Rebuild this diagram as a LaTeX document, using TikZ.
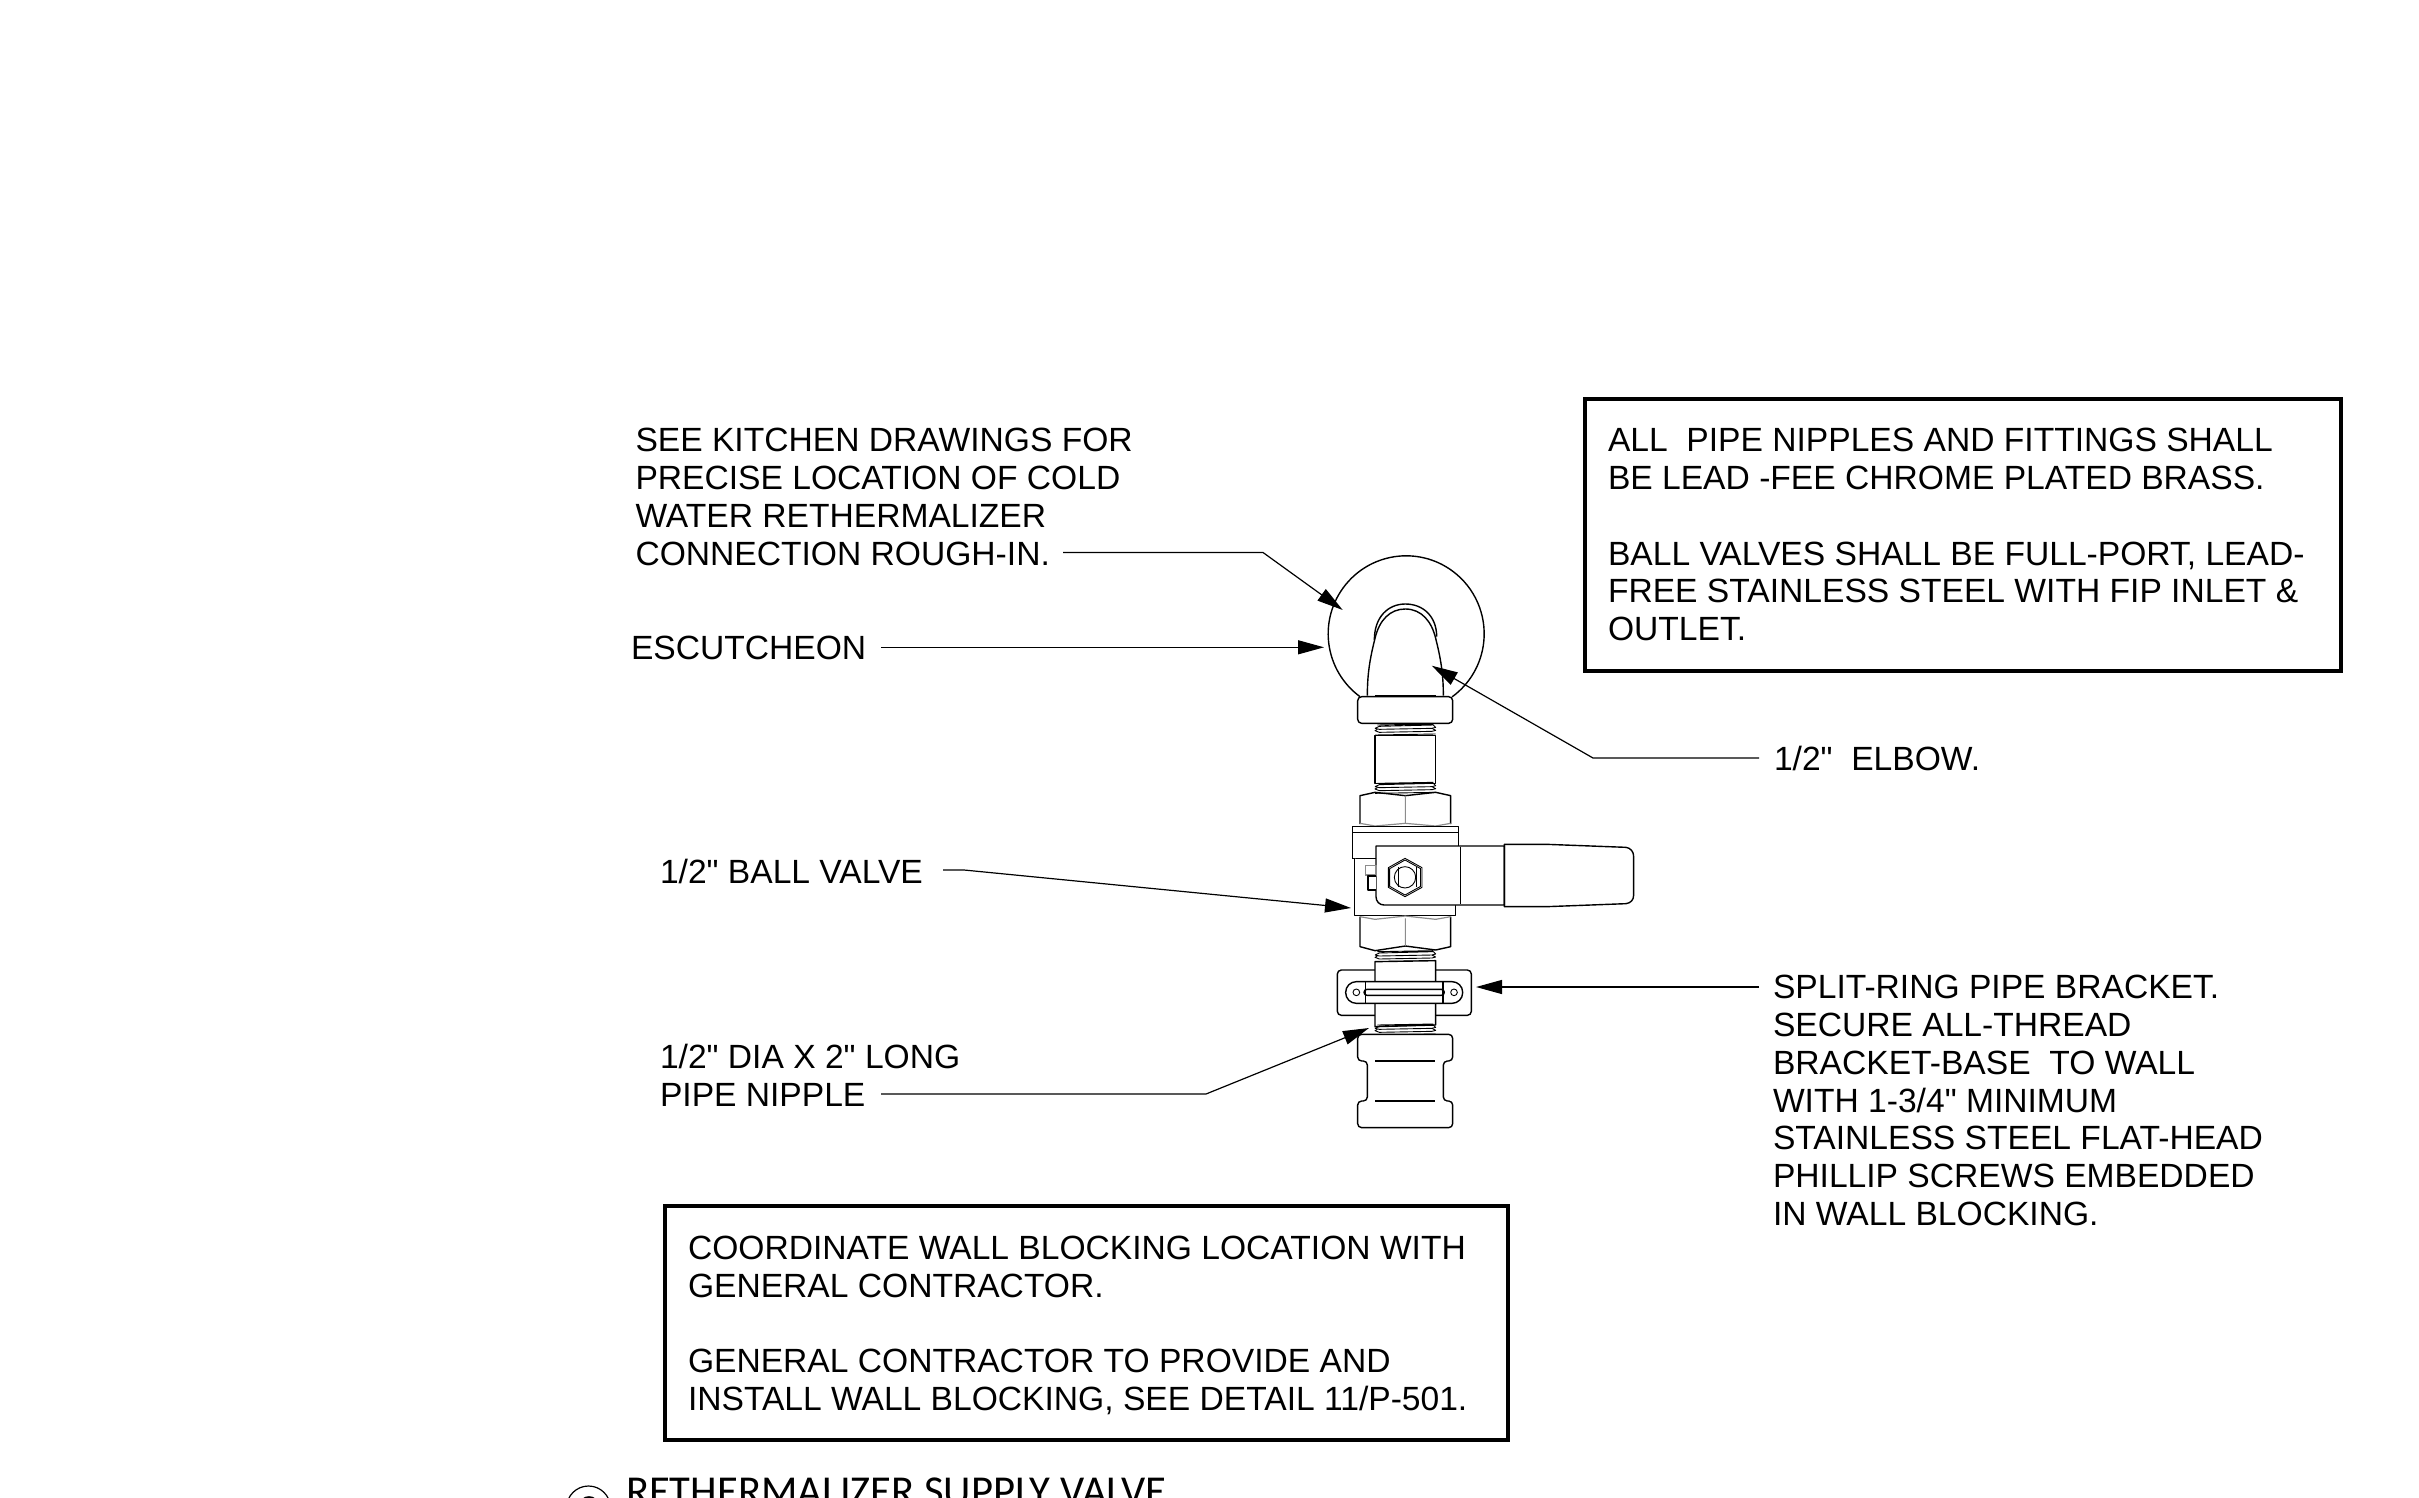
\documentclass[tikz,border=0pt]{standalone}
\usepackage{fontspec}
\newfontfamily\lab{Liberation Sans}
\newfontfamily\ttlfont{Carlito}
\usetikzlibrary{arrows.meta}
\tikzset{
  txt/.style={anchor=north west,inner sep=0pt,outer sep=0pt,align=left,font=\lab\fontsize{16.8}{18.85}\selectfont},
  ttl/.style={anchor=north west,inner sep=0pt,outer sep=0pt,font=\ttlfont\fontsize{21.3}{23}\selectfont},
  note/.style={draw,line width=1.75pt,fill=none,anchor=north west,inner sep=0pt},
  ln/.style={line width=0.7pt,line join=round},
  thn/.style={line width=0.45pt,line join=round},
  grey/.style={line width=0.6pt,draw=black!45},
  leader/.style={line width=0.6pt,draw=black,-{Triangle[length=13pt,width=7pt]}},
}
\newcommand{\thr}[1]{%
  \begin{scope}[shift={(0,#1)}]
    \draw[thn] (352,0) -- (520,-3) (345,10) -- (358,4) -- (520,0) -- (527,7) -- (516,10) -- (358,13) -- (345,10);
    \draw[thn] (352,13) -- (345,17) -- (358,22) -- (516,19) -- (527,16) -- (516,10);
    \draw[thn] (345,30) -- (527,27);
  \end{scope}}
\begin{document}
\begin{tikzpicture}[x=0.5pt,y=-0.5pt]
\useasboundingbox (0,0) rectangle (2419,1498);

% pipe assembly, upper part
\begin{scope}[shift={(1260,530)},scale=0.33333]
  \draw[ln] (300,500) arc[start angle=126.3,end angle=414,radius=234];
  \draw[ln] (343,330) .. controls (343,260) and (385,222) .. (436,222) .. controls (490,222) and (530,260) .. (530,320);
  \draw[ln,fill=white] (322,497) .. controls (322,430) and (330,385) .. (345,325) .. controls (358,270) and (390,237) .. (436,237) .. controls (485,237) and (515,275) .. (527,325) .. controls (542,385) and (550,430) .. (550,497);
  \draw[ln,fill=white,rounded corners=2pt] (293,500) rectangle (578,580);
  \draw[ln] (345,497) -- (527,497);
  \thr{585}
  \draw[ln] (345,617) rectangle (527,760);
  \thr{760}
  \draw[ln] (300,882) -- (300,797) -- (345,787) -- (436,797) -- (527,787) -- (572,797) -- (572,882);
  \draw[grey] (436,797) -- (436,880) (300,880) -- (345,888) -- (436,880) -- (527,888) -- (572,880);
\end{scope}

% valve, bracket, lower part
\begin{scope}[shift={(1260,800)},scale=0.33333]
  \draw[ln] (277,175) -- (277,80) -- (595,80) -- (595,140);
  \draw[ln] (277,97) -- (595,97);
  \draw[ln] (277,175) -- (348,175);
  \draw[ln,fill=white] (283,175) -- (283,347) -- (587,347) -- (587,315);
  \draw[ln,fill=white] (348,138) -- (733,138) -- (733,315) -- (372,315) .. controls (358,315) and (348,304) .. (348,290) -- cycle;
  \draw[ln] (601,140) -- (601,312);
  \draw[ln] (733,133) -- (860,133) -- (1098,142) .. controls (1112,144) and (1121,155) .. (1121,170) -- (1121,285) .. controls (1121,300) and (1112,309) .. (1098,311) -- (860,320) -- (733,320) -- cycle;
  \draw[grey] (316,197) rectangle (348,225);
  \draw[ln,fill=white] (348,228) -- (324,228) -- (324,270) -- (348,270);
  \draw[thn] (435,175) -- (486,203) -- (486,262) -- (435,290) -- (385,262) -- (385,203) -- cycle;
  \draw[thn] (435,180) -- (482,206) -- (482,259) -- (435,285) -- (389,259) -- (389,206) -- cycle;
  \draw[thn] (435,232) circle[radius=32];
  \draw[thn] (416,202) -- (416,262) (468,202) -- (468,262);
  \draw[ln] (300,350) -- (300,440) -- (345,452) -- (436,438) -- (527,450) -- (572,440) -- (572,350);
  \draw[grey] (300,350) -- (345,358) -- (436,348) -- (527,358) -- (572,350) (436,355) -- (436,438);
  \thr{455}
  \draw[ln,rounded corners=2pt] (232,510) rectangle (634,646);
  \draw[ln,fill=white] (345,485) -- (527,482) -- (527,675) -- (345,680) -- cycle;
  \draw[ln,fill=white,rounded corners=5.3pt] (257,545) rectangle (608,610);
  \draw[thn] (289,577) circle[radius=10] (582,577) circle[radius=10];
  \draw[ln] (317,545) -- (317,610) (549,545) -- (549,610);
  \draw[ln,rounded corners=1.5pt] (312,568) rectangle (553,586);
  \thr{675}
  \draw[ln,fill=white,rounded corners=2pt] (293,703) -- (293,783) -- (322,783) -- (322,903) -- (293,903) -- (293,983) -- (578,983) -- (578,903) -- (550,903) -- (550,783) -- (578,783) -- (578,703) -- cycle;
  \draw[ln] (345,783) -- (525,783) (345,903) -- (525,903);
\end{scope}

% notes
\node[note,minimum width=378.2pt,minimum height=136pt] (boxA) at (1583,397) {};
\node[note,minimum width=421.5pt,minimum height=117pt] (boxB) at (663,1204) {};

% labels
\node[txt] (kitchen) at (635.5,428.5) {SEE KITCHEN DRAWINGS FOR\\PRECISE LOCATION OF COLD\\WATER RETHERMALIZER\\CONNECTION ROUGH-IN.};
\node[txt] (escut) at (631,636.5) {ESCUTCHEON};
\node[txt] (ball) at (660,859.5) {1/2" BALL VALVE};
\node[txt] (nip) at (660,1044.5) {1/2" DIA X 2" LONG\\PIPE NIPPLE};
\node[txt] (elbow) at (1774,746.5) {1/2"\ \ ELBOW.};
\node[txt] (split) at (1773,975.5) {SPLIT-RING PIPE BRACKET.\\SECURE ALL-THREAD\\BRACKET-BASE\ \ TO WALL\\WITH 1-3/4" MINIMUM\\STAINLESS STEEL FLAT-HEAD\\PHILLIP SCREWS EMBEDDED\\IN WALL BLOCKING.};
\node[txt] (noteA) at (1608,428.5) {ALL\ \ PIPE NIPPLES AND FITTINGS SHALL\\BE LEAD -FEE CHROME PLATED BRASS.\\[18.85pt]BALL VALVES SHALL BE FULL-PORT, LEAD-\\FREE STAINLESS STEEL WITH FIP INLET \&\\OUTLET.};
\node[txt] (noteB) at (688,1236) {COORDINATE WALL BLOCKING LOCATION WITH\\GENERAL CONTRACTOR.\\[18.85pt]GENERAL CONTRACTOR TO PROVIDE AND\\INSTALL WALL BLOCKING, SEE DETAIL 11/P-501.};
\node[ttl] (title) at (626,1478) {RETHERMALIZER SUPPLY VALVE};
\node[draw,circle,line width=0.6pt,minimum size=22pt,inner sep=0pt] (mark) at (588.5,1508) {};
\draw[line width=0.8pt] (584,1498.5) .. controls (586,1496.5) and (592,1496.5) .. (594,1498.5);

% leaders
\coordinate (l1a) at (1063,552.5); \coordinate (l1b) at (1263,552.5); \coordinate (l1t) at (1342.7,610);
\coordinate (l2a) at (881,647.3); \coordinate (l2t) at (1324,647.3);
\coordinate (l3a) at (1759,758); \coordinate (l3b) at (1593,758); \coordinate (l3t) at (1431.7,665.7);
\coordinate (l4a) at (943,870); \coordinate (l4b) at (964,870); \coordinate (l4t) at (1351,908);
\coordinate (l5a) at (1759,987); \coordinate (l5t) at (1476,987);
\coordinate (l6a) at (881,1094); \coordinate (l6b) at (1206,1094); \coordinate (l6t) at (1369,1028);
\draw[leader] (l1a) -- (l1b) -- (l1t);
\draw[leader] (l2a) -- (l2t);
\draw[leader] (l3a) -- (l3b) -- (l3t);
\draw[leader] (l4a) -- (l4b) -- (l4t);
\draw[leader] (l5a) -- (l5t);
\draw[leader] (l6a) -- (l6b) -- (l6t);
\end{tikzpicture}
\end{document}
